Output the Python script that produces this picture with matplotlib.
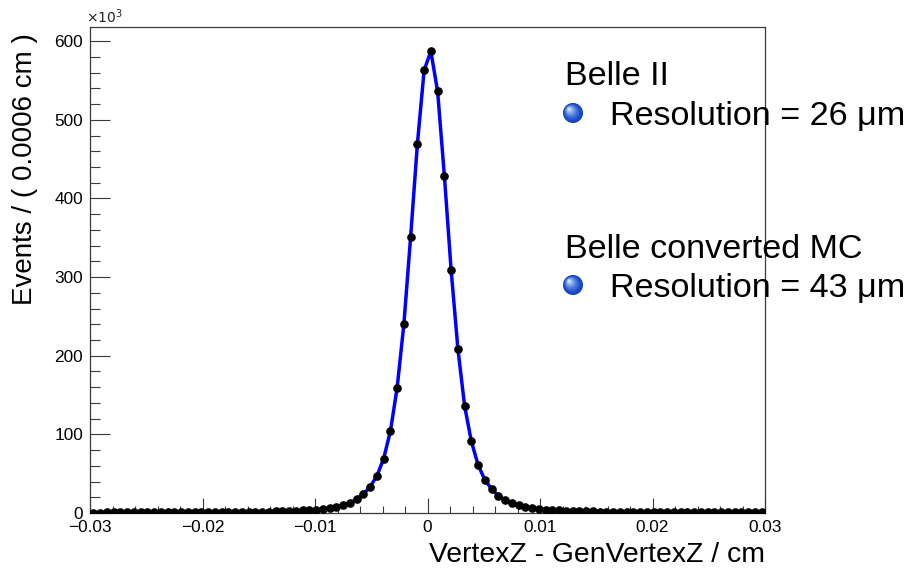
import numpy as np
import matplotlib
matplotlib.use("Agg")
import matplotlib.pyplot as plt
from matplotlib.ticker import MultipleLocator, FixedLocator, FixedFormatter
from matplotlib.patches import Circle

plt.rcParams['font.family'] = ['Liberation Sans', 'DejaVu Sans']

# ---- data (events in thousands per 0.0006 cm bin) ----
x_min, x_max, bin_width = -0.03, 0.03, 0.0006
left_side = [0.60, 0.62, 0.64, 0.66, 0.68, 0.70, 0.72, 0.74, 0.76, 0.79,
             0.82, 0.85, 0.88, 0.92, 0.96, 1.0, 1.05, 1.1, 1.15, 1.21,
             1.28, 1.35, 1.43, 1.52, 1.62, 1.75, 1.9, 2.05, 2.25, 2.5,
             2.8, 3.2, 3.7, 4.3, 5.1, 6.3, 7.9, 10, 13, 17.5,
             24, 33.5, 47, 69, 104, 159, 240, 351, 469, 563]
right_side = [587, 536, 429, 309, 209, 136, 91, 61, 42, 30.5,
              22, 16.5, 12.5, 9.8, 7.8, 6.3, 5.2, 4.4, 3.8, 3.3,
              2.9, 2.6, 2.35, 2.15, 2.0, 1.85, 1.7, 1.6, 1.5, 1.42,
              1.35, 1.28, 1.22, 1.17, 1.12, 1.07, 1.03, 0.99, 0.95, 0.92,
              0.89, 0.86, 0.83, 0.8, 0.78, 0.76, 0.74, 0.72, 0.70, 0.68]
events_k = np.array(left_side + right_side)
bin_centers = x_min + bin_width * (np.arange(len(events_k)) + 0.5)

x_ticks = [-0.03, -0.02, -0.01, 0.0, 0.01, 0.02, 0.03]
x_tick_labels = ['\u22120.03', '\u22120.02', '\u22120.01', '0', '0.01', '0.02', '0.03']
y_ticks = [0, 100, 200, 300, 400, 500, 600]
y_tick_labels = ['0', '100', '200', '300', '400', '500', '600']

legend_entries = [("Belle II", "Resolution = 26 \u03bcm"),
                  ("Belle converted MC", "Resolution = 43 \u03bcm")]

# ---- figure ----
W, H = 911, 571
fig = plt.figure(figsize=(W / 100, H / 100), dpi=100)
ax = fig.add_axes([90 / W, 1 - 513 / H, 675 / W, 486 / H])

ax.plot(bin_centers, events_k, color='#0000ff', lw=2.5, zorder=2,
        solid_joinstyle='round')
ax.plot(bin_centers, events_k, 'o', color='black', ms=5.2, zorder=3)

ax.set_xlim(x_min, x_max)
ax.set_ylim(0, 618)

frame_col = '#3a3a3a'
for s in ax.spines.values():
    s.set_color(frame_col)
    s.set_linewidth(0.9)

ax.xaxis.set_major_locator(FixedLocator(x_ticks))
ax.xaxis.set_major_formatter(FixedFormatter(x_tick_labels))
ax.xaxis.set_minor_locator(MultipleLocator(0.002))
ax.yaxis.set_major_locator(FixedLocator(y_ticks))
ax.yaxis.set_major_formatter(FixedFormatter(y_tick_labels))
ax.yaxis.set_minor_locator(MultipleLocator(20))

ax.tick_params(axis='x', which='major', direction='in', length=10.8, width=0.8,
               color=frame_col, labelsize=12.4, pad=5, top=False)
ax.tick_params(axis='x', which='minor', direction='in', length=5.4, width=0.8,
               color=frame_col, top=False)
ax.tick_params(axis='y', which='major', direction='in', length=14.4, width=0.8,
               color=frame_col, labelsize=12.4, pad=5, right=False)
ax.tick_params(axis='y', which='minor', direction='in', length=7.2, width=0.8,
               color=frame_col, right=False)

# axis titles
fig.text(765 / W, 1 - 562 / H, "VertexZ - GenVertexZ / cm", ha='right', va='baseline',
         fontsize=20.4)
fig.text(25 / W, 1 - 33 / H, "Events / ( 0.0006 cm )", ha='center', va='top',
         rotation=90, fontsize=20.0)
fig.text(86 / W, 1 - 23 / H, r"$\times10^{3}$", ha='left', va='baseline', fontsize=10,
         color='#222222')

# overlay in pixel coordinates for the legend text
ov = fig.add_axes([0, 0, 1, 1], facecolor='none')
ov.set_xlim(0, W)
ov.set_ylim(H, 0)
ov.axis('off')


def sphere(cx, cy, r):
    n = 12
    dark = np.array([0.06, 0.26, 0.78])
    light = np.array([0.80, 0.90, 1.0])
    for k in range(n):
        t = k / (n - 1)
        rr = r * (1 - 0.88 * t)
        col = dark * (1 - t ** 1.5) + light * t ** 1.5
        ov.add_patch(Circle((cx - 0.4 * r * t, cy - 0.4 * r * t), rr,
                            color=col, lw=0))


header_base = [85, 258]
entry_base = [125, 297]
sphere_y = [113, 285]
for (head, entry), hb, eb, sy in zip(legend_entries, header_base, entry_base, sphere_y):
    ov.text(565, hb, head, ha='left', va='baseline', fontsize=24.6)
    ov.text(610, eb, entry, ha='left', va='baseline', fontsize=24.6)
    sphere(573, sy, 10)

fig.savefig("out.png", dpi=100)
